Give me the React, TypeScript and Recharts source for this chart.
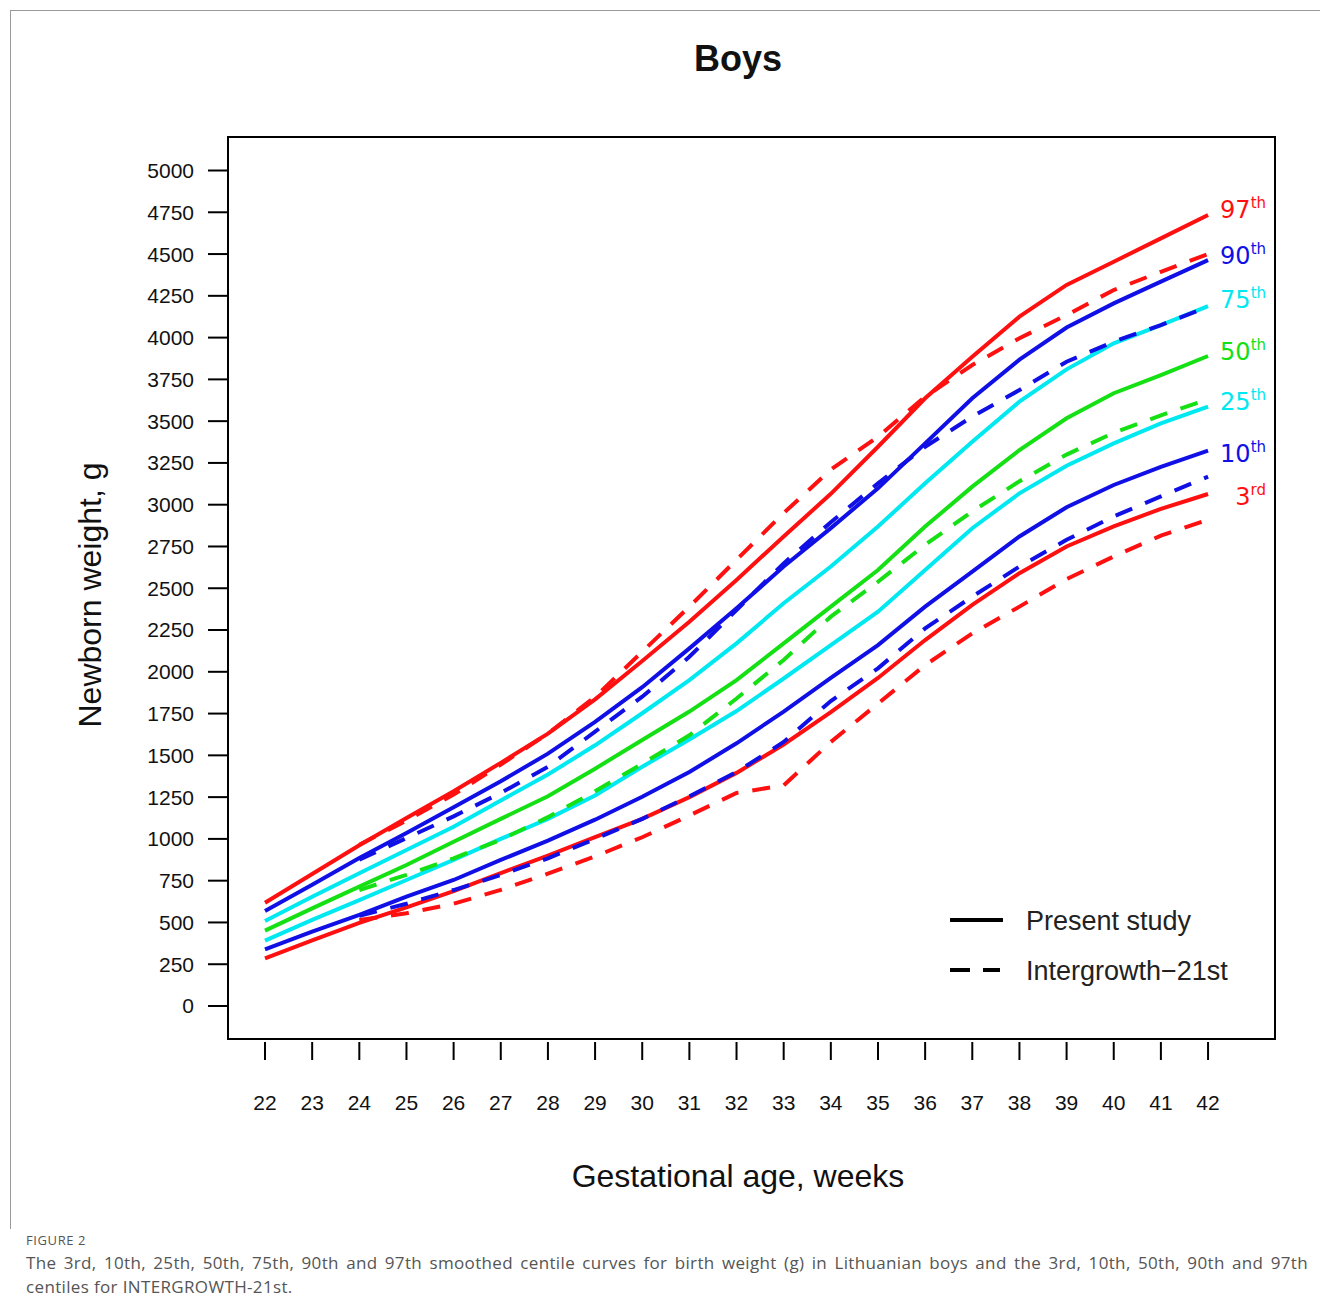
import { LineChart, Line, XAxis, YAxis, ReferenceArea, Legend } from "recharts";

const RED = "#ff1010";
const BLUE = "#1010e6";
const CYAN = "#00e8f0";
const GREEN = "#14e014";
const FONT = "Liberation Sans, Arial, sans-serif";

// gestational age, weeks
const weeks = [22, 23, 24, 25, 26, 27, 28, 29, 30, 31, 32, 33, 34, 35, 36, 37, 38, 39, 40, 41, 42];
const yTicks = [0, 250, 500, 750, 1000, 1250, 1500, 1750, 2000, 2250, 2500, 2750, 3000, 3250, 3500, 3750, 4000, 4250, 4500, 4750, 5000];

// present study, smoothed centiles (g), weeks 22..42
const p97 = [618, 790, 962, 1125, 1285, 1455, 1630, 1835, 2065, 2300, 2550, 2810, 3065, 3347, 3637, 3886, 4125, 4315, 4454, 4594, 4734];
const p90 = [569, 726, 886, 1035, 1190, 1345, 1510, 1700, 1908, 2140, 2380, 2630, 2860, 3098, 3367, 3637, 3868, 4060, 4205, 4335, 4464];
const p75 = [509, 654, 794, 934, 1073, 1230, 1385, 1560, 1752, 1950, 2170, 2410, 2630, 2869, 3128, 3377, 3617, 3810, 3966, 4075, 4189];
const p50 = [451, 584, 714, 844, 983, 1120, 1255, 1420, 1592, 1762, 1950, 2170, 2390, 2609, 2869, 3108, 3327, 3517, 3667, 3776, 3890];
const p25 = [391, 515, 634, 754, 874, 1000, 1120, 1260, 1432, 1595, 1765, 1960, 2160, 2360, 2609, 2859, 3068, 3233, 3367, 3487, 3587];
const p10 = [339, 445, 545, 654, 754, 874, 990, 1115, 1252, 1400, 1572, 1762, 1963, 2160, 2390, 2600, 2810, 2985, 3118, 3227, 3323];
const p3 = [285, 392, 497, 590, 688, 795, 900, 1010, 1120, 1250, 1395, 1565, 1758, 1963, 2190, 2400, 2590, 2750, 2870, 2975, 3064];

// INTERGROWTH-21st centiles (g), weeks 24..42
const igWeeks = [24, 25, 26, 27, 28, 29, 30, 31, 32, 33, 34, 35, 36, 37, 38, 39, 40, 41, 42];
const ig97 = [965, 1110, 1265, 1445, 1630, 1850, 2120, 2390, 2670, 2950, 3210, 3407, 3646, 3836, 3996, 4135, 4285, 4394, 4500];
const ig90 = [875, 1005, 1135, 1275, 1432, 1642, 1851, 2090, 2370, 2649, 2895, 3128, 3347, 3527, 3686, 3856, 3976, 4075, 4185];
const ig50 = [694, 785, 884, 995, 1130, 1285, 1450, 1620, 1840, 2071, 2330, 2539, 2760, 2960, 3140, 3300, 3430, 3535, 3630];
const ig10 = [540, 612, 694, 784, 884, 1000, 1120, 1255, 1400, 1580, 1825, 2021, 2260, 2450, 2630, 2790, 2930, 3050, 3168];
const ig3 = [515, 555, 612, 695, 792, 895, 1010, 1140, 1275, 1320, 1580, 1810, 2040, 2230, 2390, 2555, 2690, 2815, 2910];

const rows = weeks.map((w, i) => {
  const j = igWeeks.indexOf(w);
  return {
    week: w,
    p97: p97[i], p90: p90[i], p75: p75[i], p50: p50[i], p25: p25[i], p10: p10[i], p3: p3[i],
    ig97: j >= 0 ? ig97[j] : null,
    ig90: j >= 0 ? ig90[j] : null,
    ig50: j >= 0 ? ig50[j] : null,
    ig10: j >= 0 ? ig10[j] : null,
    ig3: j >= 0 ? ig3[j] : null,
  };
});

const solid = [
  { key: "p3", color: RED, num: "3", sup: "rd", dy: 3 },
  { key: "p10", color: BLUE, num: "10", sup: "th", dy: 3 },
  { key: "p25", color: CYAN, num: "25", sup: "th", dy: -5 },
  { key: "p50", color: GREEN, num: "50", sup: "th", dy: -4 },
  { key: "p75", color: CYAN, num: "75", sup: "th", dy: -6 },
  { key: "p90", color: BLUE, num: "90", sup: "th", dy: -4 },
  { key: "p97", color: RED, num: "97", sup: "th", dy: -5 },
];

const dashed = [
  { key: "ig3", color: RED },
  { key: "ig10", color: BLUE },
  { key: "ig50", color: GREEN },
  { key: "ig90", color: BLUE },
  { key: "ig97", color: RED },
];

const last = weeks.length - 1;

const WeekTick = (props: any) => {
  const { x, y, payload } = props;
  return (
    <g>
      <line x1={x} x2={x} y1={y + 3} y2={y + 21} stroke="#000" strokeWidth={2} />
      <text x={x} y={y + 71} textAnchor="middle" fontSize={21} fill="#111" fontFamily={FONT}>
        {payload.value}
      </text>
    </g>
  );
};

const endLabel = (s: { color: string; num: string; sup: string; dy: number }) => (props: any) => {
  const { x, y, index } = props;
  if (index !== last) return null;
  return (
    <text
      x={x + 58}
      y={y + s.dy + 8}
      textAnchor="end"
      fill={s.color}
      fontSize={24}
      fontFamily="DejaVu Sans, Verdana, sans-serif"
    >
      {s.num}
      <tspan fontSize={15} dy={-10}>{s.sup}</tspan>
    </text>
  );
};

const LegendBox = () => (
  <svg width={320} height={100}>
    <line x1={5} x2={58} y1={25} y2={25} stroke="#000" strokeWidth={4} />
    <text x={81} y={35} fontSize={27} fill="#222" fontFamily={FONT}>Present study</text>
    <line x1={5} x2={55} y1={75} y2={75} stroke="#000" strokeWidth={4} strokeDasharray="20 13" />
    <text x={81} y={85} fontSize={27} fill="#222" fontFamily={FONT}>Intergrowth−21st</text>
  </svg>
);

export default function App() {
  return (
    <div style={{ position: "absolute", left: 0, top: 0, width: 1320, height: 1304, background: "#fff" }}>
      <div
        style={{
          position: "absolute",
          left: 10,
          top: 10,
          width: 1320,
          height: 1218,
          borderTop: "1px solid #9a9a9a",
          borderLeft: "1px solid #9a9a9a",
        }}
      />
      <div
        style={{
          position: "absolute",
          left: 738,
          top: 59,
          transform: "translate(-50%, -50%)",
          fontFamily: FONT,
          fontWeight: "bold",
          fontSize: 36,
          color: "#111",
          whiteSpace: "nowrap",
        }}
      >
        Boys
      </div>
      <div
        style={{
          position: "absolute",
          left: 90,
          top: 595,
          transform: "translate(-50%, -50%) rotate(-90deg)",
          fontFamily: FONT,
          fontSize: 32,
          color: "#111",
          whiteSpace: "nowrap",
        }}
      >
        Newborn weight, g
      </div>
      <div
        style={{
          position: "absolute",
          left: 738,
          top: 1176,
          transform: "translate(-50%, -50%)",
          fontFamily: FONT,
          fontSize: 32,
          color: "#111",
          whiteSpace: "nowrap",
        }}
      >
        Gestational age, weeks
      </div>

      <div style={{ position: "absolute", left: 0, top: 0 }}>
        <LineChart
          width={1320}
          height={1304}
          data={rows}
          margin={{ top: 137, right: 45, bottom: 165, left: 128 }}
        >
          <XAxis
            dataKey="week"
            type="number"
            domain={[21.215, 43.42]}
            ticks={weeks}
            allowDataOverflow
            axisLine={false}
            tickLine={false}
            tickSize={0}
            tickMargin={0}
            height={100}
            tick={<WeekTick />}
            interval={0}
          />
          <YAxis
            type="number"
            domain={[-197.5, 5200.5]}
            ticks={yTicks}
            allowDataOverflow
            width={100}
            axisLine={false}
            stroke="#000"
            tickLine={{ stroke: "#000", strokeWidth: 2 }}
            tickSize={20}
            tickMargin={14}
            tick={{ fontSize: 21, fill: "#111", fontFamily: FONT }}
            interval={0}
          />
          <ReferenceArea
            x1={21.215}
            x2={43.42}
            y1={-197.5}
            y2={5200.5}
            fill="none"
            fillOpacity={0}
            stroke="#000"
            strokeWidth={2}
          />
          {solid.map((s) => (
            <Line
              key={s.key}
              dataKey={s.key}
              type="linear"
              stroke={s.color}
              strokeWidth={4}
              dot={false}
              activeDot={false}
              isAnimationActive={false}
              label={endLabel(s)}
            />
          ))}
          {dashed.map((s) => (
            <Line
              key={s.key}
              dataKey={s.key}
              type="linear"
              stroke={s.color}
              strokeWidth={4}
              strokeDasharray="18 14"
              dot={false}
              activeDot={false}
              isAnimationActive={false}
            />
          ))}
          <Legend
            layout="vertical"
            align="center"
            verticalAlign="middle"
            content={<LegendBox />}
            wrapperStyle={{ left: 945, top: 895, width: 320, height: 100 }}
          />
        </LineChart>
      </div>

      <div
        style={{
          position: "absolute",
          left: 26,
          top: 1231,
          fontFamily: "Open Sans, sans-serif",
          fontSize: 13,
          letterSpacing: 0.6,
          color: "#555",
        }}
      >
        FIGURE 2
      </div>
      <div
        style={{
          position: "absolute",
          left: 26,
          top: 1251,
          width: 1282,
          fontFamily: "Open Sans, sans-serif",
          fontSize: 17,
          letterSpacing: 0.35,
          lineHeight: "24px",
          color: "#555",
        }}
      >
        <div style={{ textAlign: "justify", textAlignLast: "justify", whiteSpace: "nowrap" }}>
          The 3rd, 10th, 25th, 50th, 75th, 90th and 97th smoothed centile curves for birth weight (g) in Lithuanian boys and the 3rd, 10th, 50th, 90th and 97th
        </div>
        <div style={{ whiteSpace: "nowrap" }}>centiles for INTERGROWTH-21st.</div>
      </div>
    </div>
  );
}
